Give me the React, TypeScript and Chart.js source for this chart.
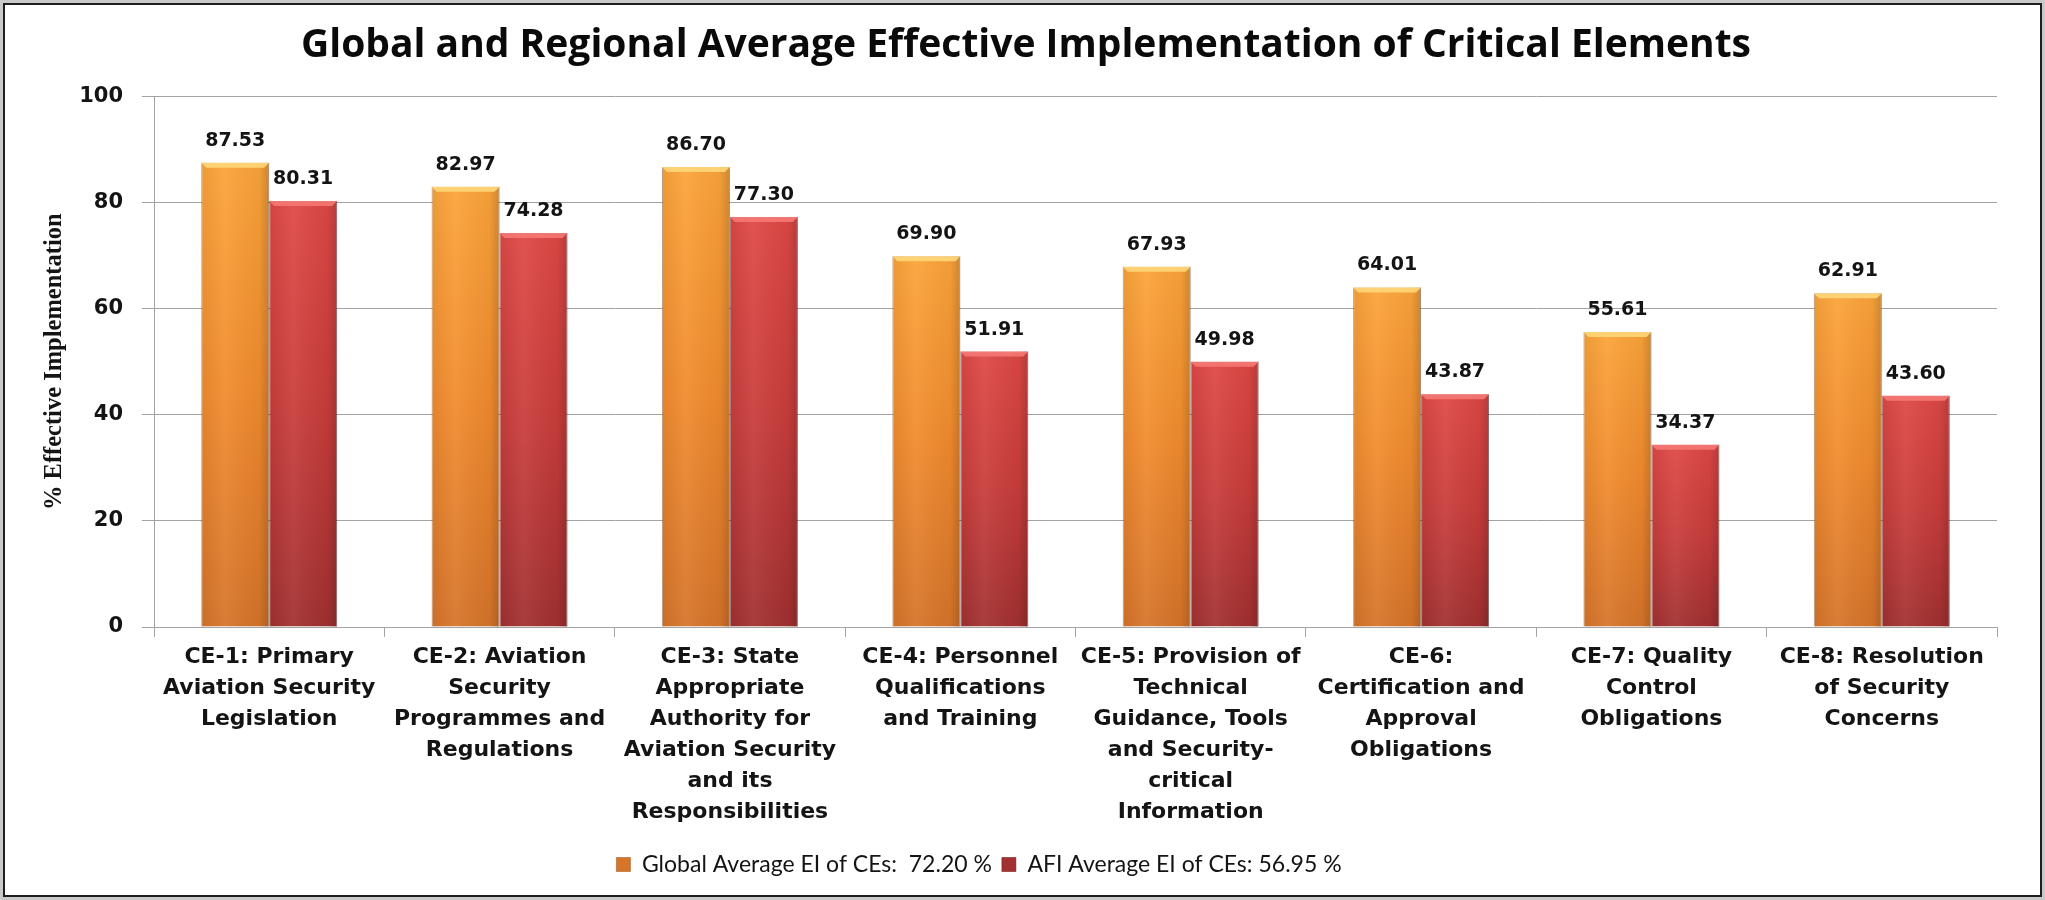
import React, { useEffect, useRef } from 'react';
import { Chart, registerables } from 'chart.js';

Chart.register(...registerables);

// ---- Data ----
const chartTitle = 'Global and Regional Average Effective Implementation of Critical Elements';
const yAxisTitle = '% Effective Implementation';

const categories: string[][] = [
  ['CE-1: Primary', 'Aviation Security', 'Legislation'],
  ['CE-2: Aviation', 'Security', 'Programmes and', 'Regulations'],
  ['CE-3: State', 'Appropriate', 'Authority for', 'Aviation Security', 'and its', 'Responsibilities'],
  ['CE-4: Personnel', 'Qualifications', 'and Training'],
  ['CE-5: Provision of', 'Technical', 'Guidance, Tools', 'and Security-', 'critical', 'Information'],
  ['CE-6:', 'Certification and', 'Approval', 'Obligations'],
  ['CE-7: Quality', 'Control', 'Obligations'],
  ['CE-8: Resolution', 'of Security', 'Concerns'],
];

const globalValues = [87.53, 82.97, 86.7, 69.9, 67.93, 64.01, 55.61, 62.91];
const afiValues = [80.31, 74.28, 77.3, 51.91, 49.98, 43.87, 34.37, 43.6];

const globalLabel = 'Global Average EI of CEs:  72.20 %';
const afiLabel = 'AFI Average EI of CEs: 56.95 %';

const yMin = 0;
const yMax = 100;
const yStep = 20;

// ---- Styles ----
const orangeStops: [number, string][] = [
  [0, '#FBA43A'],
  [0.5, '#F18B2E'],
  [1, '#D6742A'],
];
const redStops: [number, string][] = [
  [0, '#DE4845'],
  [0.5, '#C83D3B'],
  [1, '#A23031'],
];
const highlightColors = ['rgba(255, 214, 120, 0.9)', 'rgba(245, 120, 115, 0.9)'];
const gridColor = '#a3a3a3';
const textColor = '#141414';
const legendShift = -47;

function makeBarFill(stops: [number, string][], fallback: string) {
  return (ctx: any) => {
    const chart = ctx.chart;
    const y = chart.scales && chart.scales.y;
    if (ctx.type !== 'data' || !chart.chartArea || !y) return fallback;
    const top = y.getPixelForValue(ctx.raw);
    const base = y.getPixelForValue(0);
    if (!isFinite(top) || !isFinite(base) || top === base) return fallback;
    const g = chart.ctx.createLinearGradient(0, top, 0, base);
    stops.forEach(([o, c]) => g.addColorStop(o, c));
    return g;
  };
}

const legendOffsetPlugin = {
  id: 'legendOffset',
  afterLayout(chart: any) {
    const lg = chart.legend;
    if (lg) {
      lg.left += legendShift;
      lg.right += legendShift;
    }
  },
};

const barStylePlugin = {
  id: 'barStyle',
  afterDatasetsDraw(chart: any) {
    const ctx = chart.ctx;
    const yScale = chart.scales.y;
    const base = yScale.getPixelForValue(0);
    chart.data.datasets.forEach((_ds: any, di: number) => {
      const meta = chart.getDatasetMeta(di);
      meta.data.forEach((bar: any) => {
        const { x, y, width } = bar.getProps(['x', 'y', 'width'], true);
        const l = x - width / 2;
        const r = x + width / 2;
        ctx.save();
        const hg = ctx.createLinearGradient(l, 0, r, 0);
        hg.addColorStop(0, 'rgba(0,0,0,0.06)');
        hg.addColorStop(0.35, 'rgba(255,255,255,0.06)');
        hg.addColorStop(0.85, 'rgba(0,0,0,0.04)');
        hg.addColorStop(1, 'rgba(0,0,0,0.18)');
        ctx.fillStyle = hg;
        ctx.fillRect(l, y, width, base - y);
        ctx.fillStyle = highlightColors[di];
        ctx.beginPath();
        ctx.moveTo(l, y);
        ctx.lineTo(r, y);
        ctx.lineTo(r - 5, y + 5);
        ctx.lineTo(l + 5, y + 5);
        ctx.closePath();
        ctx.fill();
        ctx.restore();
      });
    });
  },
};

const valueLabelPlugin = {
  id: 'valueLabels',
  afterDatasetsDraw(chart: any) {
    const ctx = chart.ctx;
    ctx.save();
    ctx.font = 'bold 19px "DejaVu Sans"';
    ctx.fillStyle = textColor;
    ctx.textAlign = 'center';
    ctx.textBaseline = 'middle';
    chart.data.datasets.forEach((ds: any, di: number) => {
      const meta = chart.getDatasetMeta(di);
      meta.data.forEach((bar: any, i: number) => {
        const { x, y } = bar.getProps(['x', 'y'], true);
        ctx.fillText(Number(ds.data[i]).toFixed(2), x, y - 22);
      });
    });
    ctx.restore();
  },
};

export default function App() {
  const canvasRef = useRef<HTMLCanvasElement | null>(null);

  useEffect(() => {
    document.body.style.margin = '0';
    const canvas = canvasRef.current;
    if (!canvas) return;
    const chart = new Chart(canvas, {
      type: 'bar',
      data: {
        labels: categories,
        datasets: [
          {
            label: globalLabel,
            data: globalValues,
            backgroundColor: makeBarFill(orangeStops, '#E88A2E'),
            borderColor: 'rgba(150, 80, 20, 0.5)',
            borderWidth: 1,
            borderSkipped: 'bottom',
            barPercentage: 1,
            categoryPercentage: 0.59,
          },
          {
            label: afiLabel,
            data: afiValues,
            backgroundColor: makeBarFill(redStops, '#C83D3B'),
            borderColor: 'rgba(110, 25, 25, 0.55)',
            borderWidth: 1,
            borderSkipped: 'bottom',
            barPercentage: 1,
            categoryPercentage: 0.59,
          },
        ],
      },
      options: {
        animation: false,
        responsive: true,
        maintainAspectRatio: false,
        layout: { padding: { left: 50, right: 43, top: 0, bottom: 9 } },
        plugins: {
          title: {
            display: true,
            text: chartTitle,
            color: '#0a0a0a',
            font: { family: 'Open Sans', size: 39, weight: 'bold', lineHeight: 1.2 },
            padding: { top: 17.6, bottom: 27.1 },
          },
          legend: {
            position: 'bottom',
            labels: {
              color: textColor,
              font: { family: 'Lato', size: 23, lineHeight: 1.25 },
              boxWidth: 14,
              boxHeight: 14,
              padding: 10,
            },
          },
          tooltip: { enabled: false },
        },
        scales: {
          x: {
            grid: {
              display: true,
              drawOnChartArea: false,
              drawTicks: true,
              tickLength: 10,
              color: gridColor,
              offset: true,
            },
            border: { display: true, color: gridColor },
            ticks: {
              color: textColor,
              font: { family: 'DejaVu Sans', size: 22, weight: 'bold', lineHeight: 1.41 },
              padding: 5,
              maxRotation: 0,
              autoSkip: false,
            },
            afterFit: (scale: any) => {
              scale.height = 216;
            },
          },
          y: {
            min: yMin,
            max: yMax,
            grid: { color: gridColor, tickLength: 12 },
            border: { display: true, color: gridColor },
            ticks: {
              stepSize: yStep,
              color: textColor,
              font: { family: 'DejaVu Sans', size: 21, weight: 'bold' },
              padding: 19,
            },
            title: {
              display: true,
              text: yAxisTitle,
              color: textColor,
              font: { family: 'Liberation Serif', size: 24.5, weight: 'bold', lineHeight: 1.2 },
              padding: { top: -14.7, bottom: 0 },
            },
            afterFit: (scale: any) => {
              scale.width = 99;
            },
          },
        },
      },
      plugins: [legendOffsetPlugin, barStylePlugin, valueLabelPlugin],
    });
    return () => chart.destroy();
  }, []);

  return (
    <div
      style={{
        width: 2045,
        height: 900,
        background: '#c9c9c9',
        padding: 3,
        boxSizing: 'border-box',
      }}
    >
      <div
        style={{
          width: '100%',
          height: '100%',
          border: '2px solid #1e1e1e',
          boxSizing: 'border-box',
          background: '#ffffff',
          position: 'relative',
        }}
      >
        <canvas ref={canvasRef} />
      </div>
    </div>
  );
}
